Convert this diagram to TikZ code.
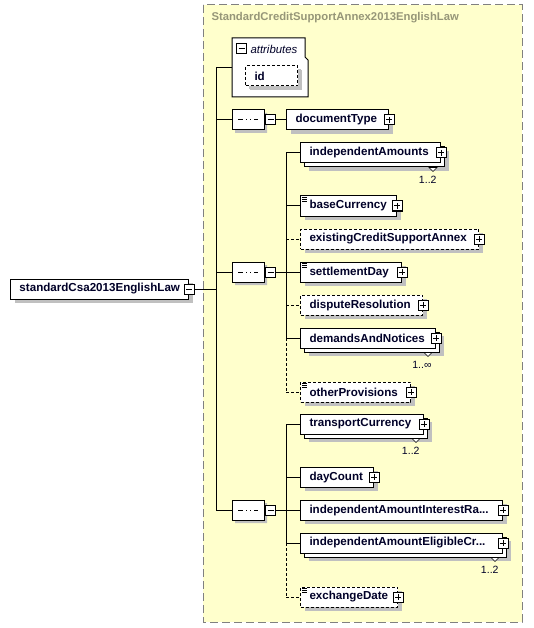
\documentclass[tikz,border=0pt]{standalone}
\usepackage{fontspec}
\setmainfont{Liberation Sans}
\usetikzlibrary{shapes.misc,shadows}

\definecolor{annexfill}{RGB}{255,255,204}
\definecolor{annexline}{RGB}{128,128,128}
\definecolor{annextitle}{RGB}{150,150,120}
\definecolor{shadegray}{RGB}{192,192,192}
\definecolor{nodetext}{RGB}{0,0,40}

\tikzset{
  shade4/.style={drop shadow={shadow xshift=4pt,shadow yshift=-4pt,fill=shadegray,opacity=1}},
  elem/.style={rectangle,draw,fill=white,text width=#1,inner xsep=9pt,inner ysep=0pt,
    minimum height=20pt,anchor=west,align=left,text=nodetext,shade4,
    font=\bfseries\fontsize{11.6}{14}\selectfont,
    execute at begin node={\hyphenpenalty10000\relax}},
  optional/.style={dash pattern=on 3pt off 2pt},
  multi/.style={drop shadow={shadow xshift=8pt,shadow yshift=-8pt,fill=shadegray,opacity=1},
    copy shadow={shadow xshift=4pt,shadow yshift=-4pt,fill=white,draw=black}},
  pmbox/.style={rectangle,draw,fill=white,minimum size=10pt,inner sep=0pt},
  plusbox/.style={pmbox,path picture={
    \draw ([xshift=2pt]path picture bounding box.west) -- ([xshift=-2pt]path picture bounding box.east)
          ([yshift=-2pt]path picture bounding box.north) -- ([yshift=2pt]path picture bounding box.south);}},
  minusbox/.style={pmbox,path picture={
    \draw ([xshift=2pt]path picture bounding box.west) -- ([xshift=-2pt]path picture bounding box.east);}},
  seq/.style={chamfered rectangle,chamfered rectangle xsep=5pt,chamfered rectangle ysep=5pt,
    draw,fill=white,minimum width=32pt,minimum height=20pt,inner sep=0pt,
    drop shadow={shadow xshift=3pt,shadow yshift=-3pt,fill=shadegray,opacity=1},
    path picture={
      \draw ([xshift=-10pt]path picture bounding box.center) -- ([xshift=10pt]path picture bounding box.center);
      \foreach \dx in {-4,0,4}
        \fill ([xshift=\dx]path picture bounding box.center) +(-1.5pt,-1.5pt) rectangle +(1.5pt,1.5pt);}},
  mult/.style={font=\fontsize{10.5}{12}\selectfont,text=nodetext,inner sep=0pt,anchor=north east},
  conn/.style={draw}
}

% three little lines for a simple type
\newcommand\docicon[1]{\foreach \dy in {2,3.7,5.4}
  \draw[line width=0.6pt] ([xshift=2pt,yshift=-\dy]#1.north west) -- ++(5,0);}
% small marker under a repeated element
\newcommand\manymark[1]{\filldraw[fill=white,line width=0.6pt]
  ([xshift=-12pt,yshift=-4pt]#1.south east) -- ++(8,0) -- ++(-4,4) -- cycle;}

\begin{document}
\begin{tikzpicture}[x=1pt,y=-1pt,line width=1pt]
\useasboundingbox (0,0) rectangle (533,628);

% the complex type
\filldraw[fill=annexfill,draw=annexline,dash pattern=on 8pt off 4pt] (203,5) rectangle (522,622);
\node[anchor=west,inner sep=0pt,text=annextitle,font=\bfseries\fontsize{11.3}{13}\selectfont]
  (annexTitle) at (211,18) {StandardCreditSupportAnnex2013EnglishLaw};

% attributes
\filldraw[fill=white] (232,38) -- (305,38) -- (305,57) -- (308,60) -- (308,97) -- (232,97) -- cycle;
\coordinate (attr) at (232,68);
\node[minusbox] (attrMinus) at (241.5,49) {};
\node[anchor=west,inner sep=0pt,text=nodetext,font=\itshape\fontsize{11.4}{13}\selectfont]
  (attrLabel) at (250,49) {attributes};
\node[elem=34pt,optional,drop shadow={shadow xshift=3pt,shadow yshift=-3pt,fill=shadegray,opacity=1}]
  (id) at (245,76) {id};

% root element
\node[elem=160pt] (root) at (10,289) {standardCsa2013EnglishLaw};
\node[minusbox] (rootMinus) at (root.east) {};

% sequences
\node[seq] (seqA) at (248,120) {};
\node[minusbox] (seqAMinus) at ([xshift=6pt]seqA.east) {};
\node[seq] (seqB) at (248,272) {};
\node[minusbox] (seqBMinus) at ([xshift=6pt]seqB.east) {};
\node[seq] (seqC) at (248,510) {};
\node[minusbox] (seqCMinus) at ([xshift=6pt]seqC.east) {};

% first sequence
\node[elem=84pt] (docType) at (286,120) {documentType};
\node[plusbox] (docTypePlus) at (docType.east) {};

% second sequence
\node[elem=122pt,multi] (indAm) at (300,153) {independentAmounts};
\node[plusbox] (indAmPlus) at (indAm.east) {};
\manymark{indAm}
\node[mult] (indAmMult) at ([xshift=-4pt,yshift=-12pt]indAm.south east) {1..2};
\node[elem=78pt] (baseCcy) at (300,206) {baseCurrency};
\node[plusbox] (baseCcyPlus) at (baseCcy.east) {};
\docicon{baseCcy}
\node[elem=160pt,optional] (existCsa) at (300,239) {existingCreditSupportAnnex};
\node[plusbox] (existCsaPlus) at (existCsa.east) {};
\node[elem=83pt] (settle) at (300,272) {settlementDay};
\node[plusbox] (settlePlus) at (settle.east) {};
\docicon{settle}
\node[elem=104pt,optional] (dispute) at (300,305) {disputeResolution};
\node[plusbox] (disputePlus) at (dispute.east) {};
\node[elem=117pt,multi] (demands) at (300,338) {demandsAndNotices};
\node[plusbox] (demandsPlus) at (demands.east) {};
\manymark{demands}
\node[mult] (demandsMult) at ([xshift=-4pt,yshift=-12pt]demands.south east) {1..∞};
\node[elem=92pt,optional] (otherProv) at (300,392) {otherProvisions};
\node[plusbox] (otherProvPlus) at (otherProv.east) {};
\docicon{otherProv}

% third sequence
\node[elem=105pt,multi] (transCcy) at (300,424) {transportCurrency};
\node[plusbox] (transCcyPlus) at (transCcy.east) {};
\manymark{transCcy}
\node[mult] (transCcyMult) at ([xshift=-4pt,yshift=-12pt]transCcy.south east) {1..2};
\node[elem=55pt] (dayCount) at (300,477) {dayCount};
\node[plusbox] (dayCountPlus) at (dayCount.east) {};
\node[elem=184pt] (indRate) at (300,510) {independentAmountInterestRa...};
\node[plusbox] (indRatePlus) at (indRate.east) {};
\node[elem=184pt,multi] (indElig) at (300,543) {independentAmountEligibleCr...};
\node[plusbox] (indEligPlus) at (indElig.east) {};
\manymark{indElig}
\node[mult] (indEligMult) at ([xshift=-4pt,yshift=-12pt]indElig.south east) {1..2};
\node[elem=79pt,optional] (exchDate) at (300,597) {exchangeDate};
\node[plusbox] (exchDatePlus) at (exchDate.east) {};
\docicon{exchDate}

% main spine
\coordinate (spineTop) at (216,68);
\coordinate (spineEnd) at (216,510);
\draw[conn] (spineTop) -- (spineEnd);
\draw[conn] (spineTop) -- (attr);
\draw[conn] (rootMinus.east) -- (rootMinus.east -| spineTop);
\draw[conn] (seqA.west -| spineTop) -- (seqA.west);
\draw[conn] (seqB.west -| spineTop) -- (seqB.west);
\draw[conn] (seqC.west -| spineTop) -- (seqC.west);
\draw[conn] (seqAMinus.east) -- (docType.west);

% second bus
\coordinate (busB) at (286,153);
\draw[conn] (seqBMinus.east) -- (seqBMinus.east -| busB);
\draw[conn] (busB) -- (busB |- demands.west);
\draw[conn,optional] (busB |- demands.west) -- (busB |- otherProv.west);
\draw[conn] (busB |- indAm.west) -- (indAm.west);
\draw[conn] (busB |- baseCcy.west) -- (baseCcy.west);
\draw[conn,optional] (busB |- existCsa.west) -- (existCsa.west);
\draw[conn] (busB |- settle.west) -- (settle.west);
\draw[conn,optional] (busB |- dispute.west) -- (dispute.west);
\draw[conn] (busB |- demands.west) -- (demands.west);
\draw[conn,optional] (busB |- otherProv.west) -- (otherProv.west);

% third bus
\coordinate (busC) at (286,424);
\draw[conn] (seqCMinus.east) -- (seqCMinus.east -| busC);
\draw[conn] (busC) -- (busC |- indElig.west);
\draw[conn,optional] (busC |- indElig.west) -- (busC |- exchDate.west);
\draw[conn] (busC |- transCcy.west) -- (transCcy.west);
\draw[conn] (busC |- dayCount.west) -- (dayCount.west);
\draw[conn] (busC |- indRate.west) -- (indRate.west);
\draw[conn] (busC |- indElig.west) -- (indElig.west);
\draw[conn,optional] (busC |- exchDate.west) -- (exchDate.west);
\end{tikzpicture}
\end{document}
